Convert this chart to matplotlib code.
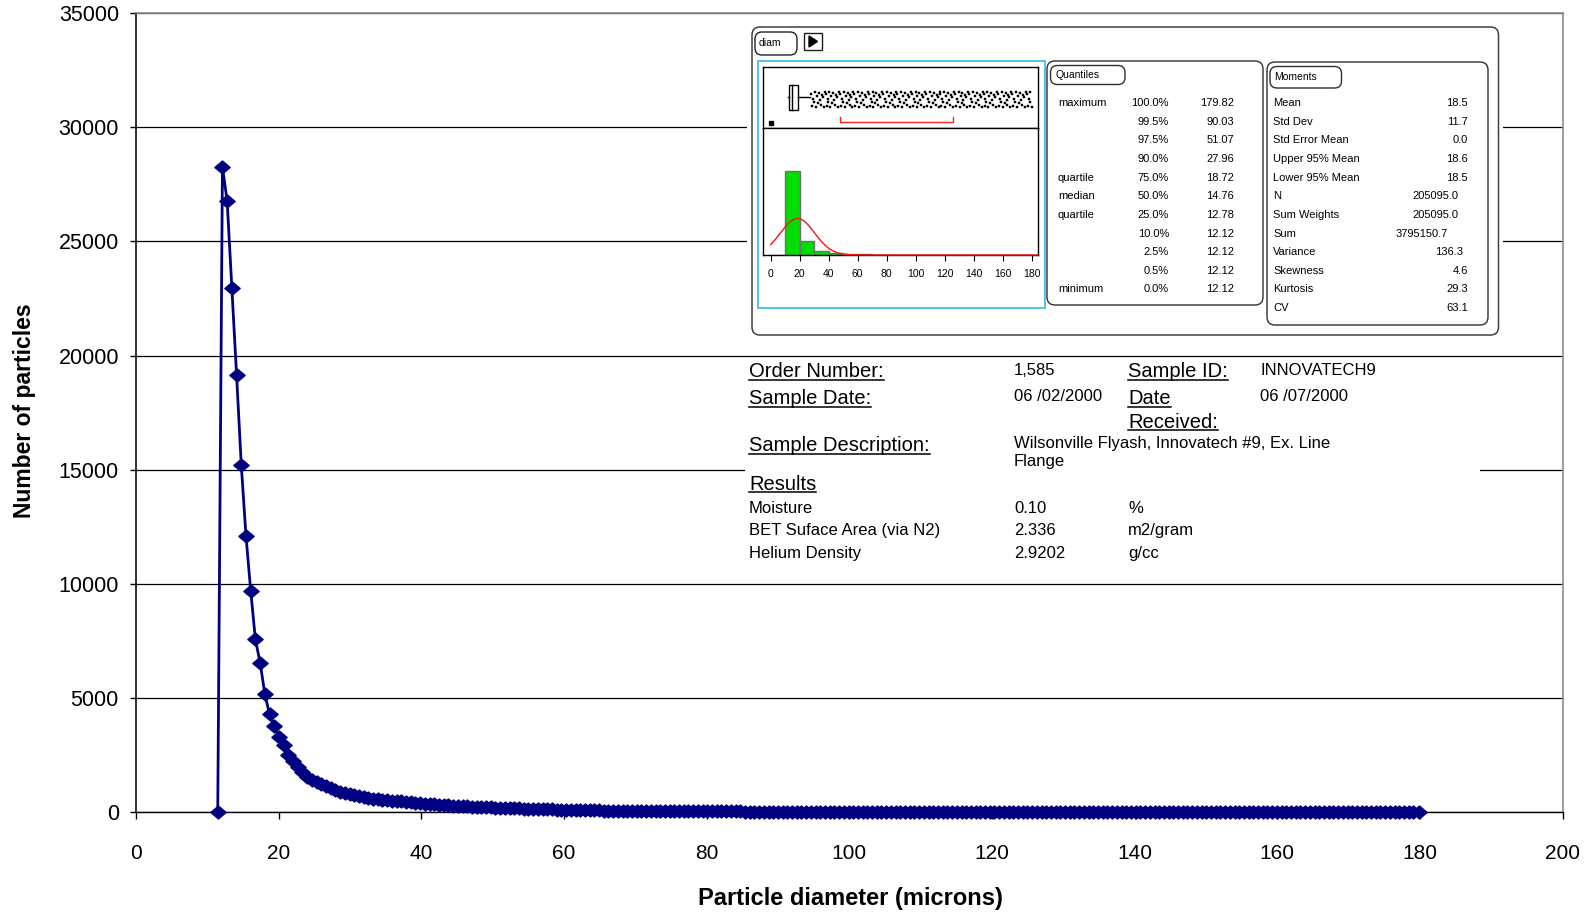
import numpy as np
import matplotlib
matplotlib.use("Agg")
import matplotlib.pyplot as plt
from matplotlib.patches import Rectangle, FancyBboxPatch, Polygon
from matplotlib.path import Path

W, H = 1593, 915

# particle size distribution (bin centre in microns, particle count)
diameter = [
    11.46, 12.12, 12.78, 13.44, 14.10, 14.76, 15.42, 16.08, 16.74, 17.40,
    18.06, 18.72, 19.38, 20.04, 20.70, 21.36, 22.02, 22.68, 23.34, 24.00,
    24.66, 25.32, 25.98, 26.64, 27.30, 27.96, 28.62, 29.28, 29.94, 30.60,
    31.26, 31.92, 32.58, 33.24, 33.90, 34.56, 35.22, 35.88, 36.54, 37.20,
    37.86, 38.52, 39.18, 39.84, 40.50, 41.16, 41.82, 42.48, 43.14, 43.80,
    44.46, 45.12, 45.78, 46.44, 47.10, 47.76, 48.42, 49.08, 49.74, 50.40,
    51.06, 51.72, 52.38, 53.04, 53.70, 54.36, 55.02, 55.68, 56.34, 57.00,
    57.66, 58.32, 58.98, 59.64, 60.30, 60.96, 61.62, 62.28, 62.94, 63.60,
    64.26, 64.92, 65.58, 66.24, 66.90, 67.56, 68.22, 68.88, 69.54, 70.20,
    70.86, 71.52, 72.18, 72.84, 73.50, 74.16, 74.82, 75.48, 76.14, 76.80,
    77.46, 78.12, 78.78, 79.44, 80.10, 80.76, 81.42, 82.08, 82.74, 83.40,
    84.06, 84.72, 85.38, 86.04, 86.70, 87.36, 88.02, 88.68, 89.34, 90.00,
    90.66, 91.32, 91.98, 92.64, 93.30, 93.96, 94.62, 95.28, 95.94, 96.60,
    97.26, 97.92, 98.58, 99.24, 99.90, 100.56, 101.22, 101.88, 102.54, 103.20,
    103.86, 104.52, 105.18, 105.84, 106.50, 107.16, 107.82, 108.48, 109.14, 109.80,
    110.46, 111.12, 111.78, 112.44, 113.10, 113.76, 114.42, 115.08, 115.74, 116.40,
    117.06, 117.72, 118.38, 119.04, 119.70, 120.36, 121.02, 121.68, 122.34, 123.00,
    123.66, 124.32, 124.98, 125.64, 126.30, 126.96, 127.62, 128.28, 128.94, 129.60,
    130.26, 130.92, 131.58, 132.24, 132.90, 133.56, 134.22, 134.88, 135.54, 136.20,
    136.86, 137.52, 138.18, 138.84, 139.50, 140.16, 140.82, 141.48, 142.14, 142.80,
    143.46, 144.12, 144.78, 145.44, 146.10, 146.76, 147.42, 148.08, 148.74, 149.40,
    150.06, 150.72, 151.38, 152.04, 152.70, 153.36, 154.02, 154.68, 155.34, 156.00,
    156.66, 157.32, 157.98, 158.64, 159.30, 159.96, 160.62, 161.28, 161.94, 162.60,
    163.26, 163.92, 164.58, 165.24, 165.90, 166.56, 167.22, 167.88, 168.54, 169.20,
    169.86, 170.52, 171.18, 171.84, 172.50, 173.16, 173.82, 174.48, 175.14, 175.80,
    176.46, 177.12, 177.78, 178.44, 179.10, 179.82,
]
particles = [
    0, 28270, 26760, 22950, 19150, 15200, 12100, 9700, 7560, 6540,
    5180, 4280, 3780, 3300, 2930, 2500, 2250, 1950, 1750, 1550,
    1420, 1320, 1230, 1160, 1050, 960, 890, 850, 800, 740,
    690, 640, 600, 570, 550, 530, 510, 500, 480, 470,
    450, 430, 410, 390, 370, 350, 330, 310, 300, 285,
    275, 265, 255, 245, 235, 225, 215, 210, 200, 195,
    190, 182, 175, 168, 160, 152, 145, 138, 132, 126,
    120, 114, 108, 103, 98, 93, 88, 84, 80, 76,
    72, 68, 65, 62, 59, 56, 53, 51, 49, 47,
    45, 43, 41, 40, 38, 37, 35, 34, 33, 32,
    31, 30, 29, 28, 27, 26, 25, 25, 24, 23,
    23, 22, 21, 21, 20, 20, 19, 19, 18, 18,
    17, 17, 16, 16, 15, 15, 14, 14, 14, 13,
    13, 13, 12, 12, 12, 11, 11, 11, 11, 10,
    10, 10, 10, 9, 9, 9, 9, 9, 8, 8,
    8, 8, 8, 8, 7, 7, 7, 7, 7, 7,
    6, 6, 7, 6, 6, 6, 6, 6, 5, 6,
    5, 5, 5, 5, 5, 5, 5, 5, 5, 4,
    4, 5, 4, 4, 4, 4, 4, 4, 4, 4,
    4, 3, 4, 3, 4, 3, 3, 3, 3, 3,
    3, 3, 3, 3, 3, 3, 3, 3, 2, 3,
    3, 2, 3, 2, 2, 3, 2, 2, 2, 2,
    2, 2, 2, 2, 2, 2, 2, 2, 2, 2,
    2, 2, 1, 2, 2, 1, 2, 1, 2, 1,
    1, 2, 1, 1, 1, 2, 1, 1, 1, 1,
    1, 1, 1, 1, 1, 1,
]

# distribution summary
quantile_names = ["maximum", "", "", "", "quartile", "median", "quartile", "", "", "", "minimum"]
quantile_pcts = ["100.0%", "99.5%", "97.5%", "90.0%", "75.0%", "50.0%", "25.0%", "10.0%", "2.5%", "0.5%", "0.0%"]
quantile_values = ["179.82", "90.03", "51.07", "27.96", "18.72", "14.76", "12.78", "12.12", "12.12", "12.12", "12.12"]

moment_names = ["Mean", "Std Dev", "Std Error Mean", "Upper 95% Mean", "Lower 95% Mean", "N",
                "Sum Weights", "Sum", "Variance", "Skewness", "Kurtosis", "CV"]
moment_values = ["18.5", "11.7", "0.0", "18.6", "18.5", "205095.0",
                 "205095.0", "3795150.7", "136.3", "4.6", "29.3", "63.1"]
moment_right = [1468, 1468, 1468, 1468, 1468, 1458, 1458, 1448, 1463, 1468, 1468, 1468]

shortest_half = [47.8, 125.5]
low_reading = [0.0]
jitter = [0.08, -0.11, 0.01, -0.04, 0.12, -0.13, 0.05, -0.07, 0.10, -0.01, -0.09, 0.07, 0.03, -0.12, 0.11]

# sample sheet
order_number = "1,585"
sample_id = "INNOVATECH9"
sample_date = "06 /02/2000"
date_received = "06 /07/2000"
description = ["Wilsonville Flyash, Innovatech #9, Ex. Line", "Flange"]
result_names = ["Moisture", "BET Suface Area (via N2)", "Helium Density"]
result_values = ["0.10", "2.336", "2.9202"]
result_units = ["%", "m2/gram", "g/cc"]

plt.rcParams["font.family"] = ["Liberation Sans", "DejaVu Sans"]
NAVY = "#000080"
PANEL_FS = 8


def frac(x0, y0, x1, y1):
    return [x0 / W, 1 - y1 / H, (x1 - x0) / W, (y1 - y0) / H]


fig = plt.figure(figsize=(W / 100, H / 100), dpi=100)

# ---- main curve ----
ax = fig.add_axes(frac(136, 13.2, 1562.5, 812))
diamond = Path([(-1, 0), (0, -0.85), (1, 0), (0, 0.85), (-1, 0)],
               [Path.MOVETO, Path.LINETO, Path.LINETO, Path.LINETO, Path.CLOSEPOLY])
ax.plot(diameter, particles, color=NAVY, lw=2, marker=diamond, ms=11,
        mfc=NAVY, mec=NAVY, zorder=3, clip_on=False)
ax.set_xlim(0, 200)
ax.set_ylim(0, 35000)
ax.set_xticks(range(0, 201, 20))
ax.set_yticks(range(0, 35001, 5000))
ax.yaxis.grid(True, color="black", lw=0.9)
ax.set_axisbelow(True)
ax.spines["left"].set_color("#202020")
ax.spines["left"].set_linewidth(1.3)
ax.spines["bottom"].set_color("black")
ax.spines["bottom"].set_linewidth(1.0)
for s in ("top", "right"):
    ax.spines[s].set_color("#8c8c8c")
    ax.spines[s].set_linewidth(1.2)
ax.tick_params(axis="x", direction="out", length=5, width=1, pad=18, labelsize=15)
ax.tick_params(axis="y", direction="out", length=4.3, width=1, pad=8, labelsize=15.5)

fig.text(850 / W, 1 - 898 / H, "Particle diameter (microns)", ha="center", va="center",
         fontsize=17, fontweight="bold")
fig.text(25 / W, 1 - 411 / H, "Number of particles", ha="center", va="center",
         rotation=90, fontsize=16.5, fontweight="bold")

# ---- pixel overlay for the report panels ----
ov = fig.add_axes([0, 0, 1, 1], zorder=5)
ov.set_xlim(0, W)
ov.set_ylim(H, 0)
ov.axis("off")

ov.add_patch(Rectangle((747, 23), 756, 316, facecolor="white", edgecolor="none", zorder=1))
ov.add_patch(FancyBboxPatch((752, 27), 746.5, 308, boxstyle="round,pad=0,rounding_size=8",
                            facecolor="white", edgecolor="#404040", lw=1.1, zorder=2))
ov.add_patch(FancyBboxPatch((755, 32), 42, 23, boxstyle="round,pad=0,rounding_size=7",
                            facecolor="white", edgecolor="#202020", lw=1, zorder=3))
ov.text(759, 43.5, "diam", fontsize=7.5, va="center", zorder=4)
ov.add_patch(Rectangle((804, 33), 18, 17, facecolor="white", edgecolor="#202020", lw=1, zorder=3))
ov.add_patch(Polygon([(809, 36), (809, 47), (817.5, 41.5)], closed=True,
                     facecolor="black", edgecolor="black", zorder=4))
ov.add_patch(Rectangle((757.5, 60.5), 287, 247.5, facecolor="white", edgecolor="#4fc3ea",
                       lw=1.4, zorder=3))

# quantiles panel
ov.add_patch(FancyBboxPatch((1047, 61), 216, 244, boxstyle="round,pad=0,rounding_size=8",
                            facecolor="white", edgecolor="#303030", lw=1, zorder=3))
ov.add_patch(FancyBboxPatch((1050.5, 65.5), 74.5, 19, boxstyle="round,pad=0,rounding_size=7",
                            facecolor="white", edgecolor="#303030", lw=1, zorder=4))
ov.text(1055, 75, "Quantiles", fontsize=7.5, va="center", zorder=5)
for i, (nm, pc, val) in enumerate(zip(quantile_names, quantile_pcts, quantile_values)):
    y = 103 + i * 18.65
    ov.text(1058, y, nm, fontsize=PANEL_FS, va="center", zorder=5)
    ov.text(1169, y, pc, fontsize=PANEL_FS, va="center", ha="right", zorder=5)
    ov.text(1234, y, val, fontsize=PANEL_FS, va="center", ha="right", zorder=5)

# moments panel
ov.add_patch(FancyBboxPatch((1267, 62), 221, 263, boxstyle="round,pad=0,rounding_size=8",
                            facecolor="white", edgecolor="#303030", lw=1, zorder=3))
ov.add_patch(FancyBboxPatch((1270, 66.5), 71.5, 21.5, boxstyle="round,pad=0,rounding_size=7",
                            facecolor="white", edgecolor="#303030", lw=1, zorder=4))
ov.text(1274, 77, "Moments", fontsize=7.5, va="center", zorder=5)
for i, (nm, val) in enumerate(zip(moment_names, moment_values)):
    y = 103 + i * 18.65
    ov.text(1273, y, nm, fontsize=PANEL_FS, va="center", zorder=5)
    ov.text(moment_right[i], y, val, fontsize=PANEL_FS, va="center", ha="right", zorder=5)

# sample sheet block (white backing lets the 20000 grid line through)
ov.add_patch(Rectangle((745, 358), 735, 214, facecolor="white", edgecolor="none", zorder=1))

underlined = []
hdr = dict(fontsize=14.5, va="baseline", zorder=5)
small = dict(fontsize=12, va="baseline", zorder=5)
for x, y, s in [(749, 377.2, "Order Number:"), (749, 404.2, "Sample Date:"),
                (749, 451.2, "Sample Description:"), (749, 489.8, "Results"),
                (1128, 377.2, "Sample ID:"), (1128, 404.2, "Date"), (1128, 427.8, "Received:")]:
    underlined.append((ov.text(x, y, s, **hdr), y))
ov.text(1014, 374.8, order_number, **small)
ov.text(1014, 401, sample_date, **small)
ov.text(1260, 374.8, sample_id, **small)
ov.text(1260, 401, date_received, **small)
for j, line in enumerate(description):
    ov.text(1014, 448 + j * 18, line, **small)
for j, (nm, val, un) in enumerate(zip(result_names, result_values, result_units)):
    y = 513 + j * 22.3
    ov.text(749, y, nm, **small)
    ov.text(1014, y, val, **small)
    ov.text(1128, y, un, **small)

# ---- box plot strip ----
xl = (-5.3, 184.3)
bx = fig.add_axes(frac(763, 66.7, 1038, 128), zorder=6)
bx.set_xlim(*xl)
bx.set_ylim(0, 1)
bx.set_xticks([])
bx.set_yticks([])
for s in bx.spines.values():
    s.set_color("black")
    s.set_linewidth(1)
q1, med, q3 = float(quantile_values[6]), float(quantile_values[5]), float(quantile_values[4])
fence = q3 + 1.5 * (q3 - q1)
d = np.array(diameter)
n = np.array(particles)
inside = d[(d <= fence) & (n > 0)]
outliers = d[(d > fence) & (n > 0)]
bx.add_patch(Rectangle((q1, 0.29), q3 - q1, 0.41, facecolor="white", edgecolor="black", lw=1))
bx.plot([med, med], [0.29, 0.70], color="black", lw=1)
bx.plot([q3, inside.max()], [0.5, 0.5], color="black", lw=1)
bx.plot([inside.min(), q1], [0.5, 0.5], color="black", lw=1)
ys = [0.47 + jitter[i % len(jitter)] for i in range(len(outliers))]
bx.plot(outliers, ys, ls="none", marker="s", ms=1.7, mfc="black", mec="black", mew=0.3)
bx.plot(low_reading, [0.08], ls="none", marker="s", ms=2.2, mfc="black", mec="black")
bx.plot([shortest_half[0], shortest_half[0], shortest_half[1], shortest_half[1]],
        [0.18, 0.10, 0.10, 0.18], color="#ff2020", lw=1)

# ---- histogram with fitted normal ----
hx = fig.add_axes(frac(763, 128, 1038, 255), zorder=6)
hx.hist(diameter, bins=np.arange(0, 190, 10), weights=particles,
        color="#00dd00", edgecolor="#707070", lw=1)
mean, sd, count = float(moment_values[0]), float(moment_values[1]), float(moment_values[5])
xs = np.linspace(0, 184, 400)
hx.plot(xs, count * 10 * np.exp(-0.5 * ((xs - mean) / sd) ** 2) / (sd * np.sqrt(2 * np.pi)),
        color="#ff1010", lw=1, clip_on=False, zorder=4)
hx.set_xlim(*xl)
hx.set_ylim(0, 243000)
hx.set_yticks([])
hx.set_xticks(range(0, 181, 20))
hx.tick_params(axis="x", direction="out", length=4, width=0.8, pad=6, labelsize=7.5)
for s in hx.spines.values():
    s.set_color("black")
    s.set_linewidth(1)

# underline the sheet headings
fig.canvas.draw()
r = fig.canvas.get_renderer()
for t, y in underlined:
    bb = t.get_window_extent(r)
    ov.plot([bb.x0, bb.x1], [y + 2.5, y + 2.5], color="black", lw=1.1, zorder=5)

fig.savefig("out.png", dpi=100)
